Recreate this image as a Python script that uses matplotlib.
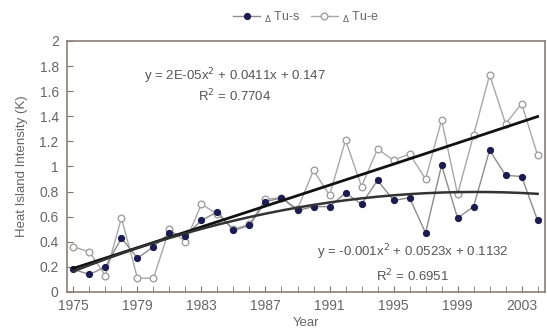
import numpy as np
from matplotlib import pyplot as plt

plt.rcParams['font.family'] = ['Liberation Sans', 'DejaVu Sans']

years = list(range(1975, 2005))
# filled series
tu_s = [0.18, 0.14, 0.20, 0.43, 0.27, 0.36, 0.47, 0.45, 0.57, 0.64,
        0.49, 0.53, 0.72, 0.75, 0.65, 0.68, 0.68, 0.79, 0.70, 0.89,
        0.73, 0.75, 0.47, 1.01, 0.59, 0.68, 1.13, 0.93, 0.92, 0.57]
# open series
tu_e = [0.36, 0.32, 0.13, 0.59, 0.11, 0.11, 0.50, 0.40, 0.70, 0.62,
        0.50, 0.54, 0.74, 0.75, 0.66, 0.97, 0.77, 1.21, 0.84, 1.14,
        1.05, 1.10, 0.90, 1.37, 0.78, 1.25, 1.73, 1.34, 1.50, 1.09]

# fitted polynomials as printed on the chart (x = 1..30)
coef_e = [2e-05, 0.0411, 0.147]
coef_s = [-0.001, 0.0523, 0.1132]
xi = np.arange(1, len(years) + 1)

fig = plt.figure(figsize=(5.47, 3.36), dpi=100)
ax = fig.add_axes([0.1225, 0.131, 0.8735, 0.747])

ax.plot(years, tu_s, '-', color='#8c8c8c', lw=1.0, marker='o', markersize=4.2,
        markerfacecolor='#1c1c50', markeredgecolor='#1c1c50', label=r'$_\Delta$ Tu-s', zorder=3)
ax.plot(years, tu_e, '-', color='#a8a8a8', lw=1.0, marker='o', markersize=4.8,
        markerfacecolor='white', markeredgecolor='#a0a0a0', label=r'$_\Delta$ Tu-e', zorder=2)

ax.plot(years, np.polyval(coef_e, xi), color='#111111', lw=2.0, zorder=4)
ax.plot(years, np.polyval(coef_s, xi), color='#333333', lw=1.8, zorder=4)

ax.text(1985.1, 1.72, 'y = 2E-05x$^2$ + 0.0411x + 0.147', ha='center', va='center',
        fontsize=9.5, color='#555555')
ax.text(1985.1, 1.56, 'R$^2$ = 0.7704', ha='center', va='center', fontsize=9.5, color='#555555')
ax.text(1996.2, 0.32, 'y = -0.001x$^2$ + 0.0523x + 0.1132', ha='center', va='center',
        fontsize=9.5, color='#555555')
ax.text(1996.2, 0.13, 'R$^2$ = 0.6951', ha='center', va='center', fontsize=9.5, color='#555555')

ax.set_xlim(1974.6, 2004.45)
ax.set_ylim(0, 2)
ax.set_xticks(range(1975, 2005, 4))
ax.set_xticks(range(1975, 2005), minor=True)
ax.set_yticks(np.arange(0, 2.01, 0.2))
ax.set_yticklabels(['0', '0.2', '0.4', '0.6', '0.8', '1', '1.2', '1.4', '1.6', '1.8', '2'])
ax.tick_params(direction='in', colors='#777777', labelcolor='#666666', labelsize=10, length=4)
ax.tick_params(axis='y', pad=6)
ax.tick_params(axis='x', pad=5)
ax.tick_params(which='minor', direction='in', colors='#777777', length=4)
for s in ax.spines.values():
    s.set_color('#8a7f78')
    s.set_linewidth(1.2)

ax.set_xlabel('Year', fontsize=9.5, color='#666666', labelpad=3)
ax.set_ylabel('Heat Island Intensity (K)', fontsize=9.5, color='#666666', labelpad=8)
ax.legend(loc='lower center', bbox_to_anchor=(0.5, 1.02), ncol=2, frameon=False,
          fontsize=9, handlelength=2.2, columnspacing=0.8, handletextpad=0.3,
          labelcolor='#666666')

plt.savefig('out.png', dpi=100)
